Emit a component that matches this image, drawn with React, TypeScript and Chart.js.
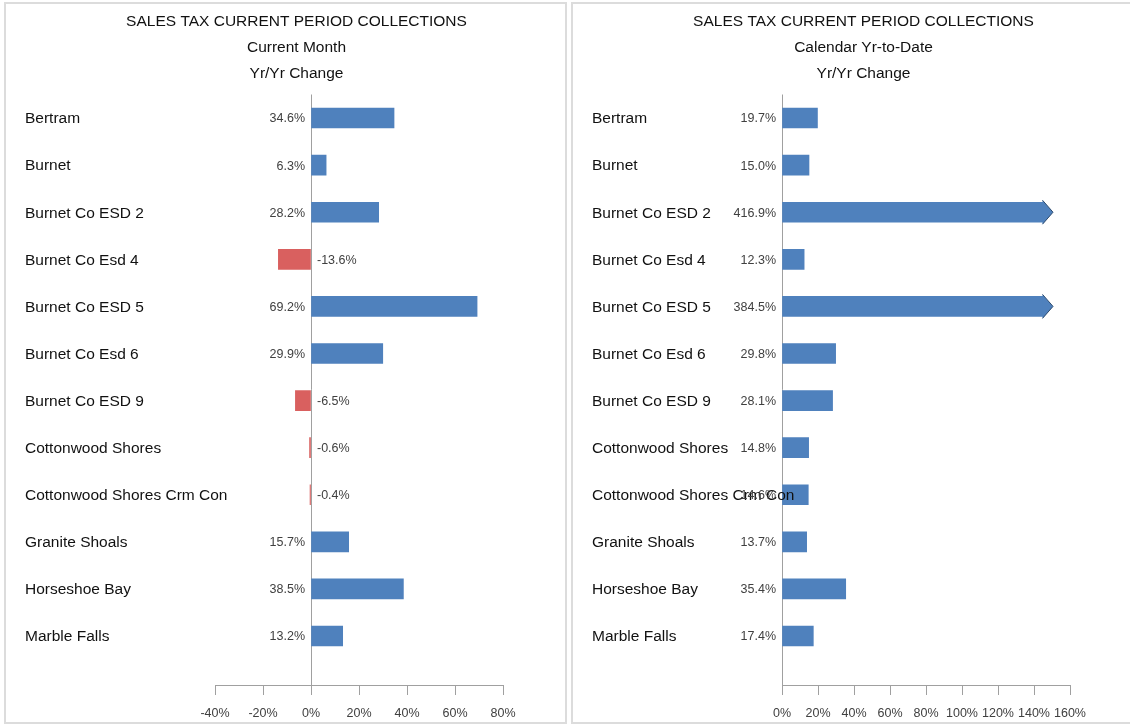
import React, { useEffect, useRef } from "react";
import { Chart, registerables } from "chart.js";
Chart.register(...registerables);

const categories = [
  "Bertram",
  "Burnet",
  "Burnet Co ESD 2",
  "Burnet Co Esd 4",
  "Burnet Co ESD 5",
  "Burnet Co Esd 6",
  "Burnet Co ESD 9",
  "Cottonwood Shores",
  "Cottonwood Shores Crm Con",
  "Granite Shoals",
  "Horseshoe Bay",
  "Marble Falls",
];
const monthChange = [34.6, 6.3, 28.2, -13.6, 69.2, 29.9, -6.5, -0.6, -0.4, 15.7, 38.5, 13.2];
const ytdChange = [19.7, 15.0, 416.9, 12.3, 384.5, 29.8, 28.1, 14.8, 14.6, 13.7, 35.4, 17.4];
const monthTitle = ["SALES TAX CURRENT PERIOD COLLECTIONS", "Current Month", "Yr/Yr Change"];
const ytdTitle = ["SALES TAX CURRENT PERIOD COLLECTIONS", "Calendar Yr-to-Date", "Yr/Yr Change"];
const monthAxis = { min: -40, max: 80, step: 20 };
const ytdAxis = { min: 0, max: 160, step: 20 };
const ytdCap = 145;

const FONT = "'Liberation Sans', Arial, Helvetica, sans-serif";
const BLUE = "#4f81bd";
const RED = "#d9605f";

type Props = {
  values: number[];
  titles: string[];
  axis: { min: number; max: number; step: number };
  cap?: number;
  left: number;
  width: number;
};

function BarPanel({ values, titles, axis, cap, left, width }: Props) {
  const ref = useRef<HTMLCanvasElement | null>(null);
  useEffect(() => {
    const canvas = ref.current;
    if (!canvas) return;
    const capVal = cap ?? Infinity;
    const shown = values.map((v, i) => ({ x: Math.min(v, capVal), y: i }));

    const titlePlugin = {
      id: "titleLines",
      afterDraw(chart: any) {
        const ctx = chart.ctx;
        ctx.save();
        ctx.font = `15.5px ${FONT}`;
        ctx.fillStyle = "#111";
        ctx.textAlign = "center";
        ctx.textBaseline = "middle";
        titles.forEach((t, i) => ctx.fillText(t, 290.5, 18 + i * 26));
        ctx.restore();
      },
    };

    const labelPlugin = {
      id: "valueLabels",
      afterDatasetsDraw(chart: any) {
        const ctx = chart.ctx;
        const meta = chart.getDatasetMeta(0);
        const xs = chart.scales.x;
        const ys = chart.scales.y;
        const x0 = xs.getPixelForValue(0);
        ctx.save();
        ctx.textBaseline = "middle";
        meta.data.forEach((bar: any, i: number) => {
          const v = values[i];
          if (v > capVal) {
            const h = bar.height;
            ctx.beginPath();
            ctx.moveTo(bar.x - 0.5, bar.y - h / 2 - 2);
            ctx.lineTo(bar.x + 10, bar.y);
            ctx.lineTo(bar.x - 0.5, bar.y + h / 2 + 2);
            ctx.closePath();
            ctx.fillStyle = BLUE;
            ctx.fill();
            ctx.strokeStyle = "#2b4a6e";
            ctx.lineWidth = 1;
            ctx.beginPath();
            ctx.moveTo(bar.x - 0.5, bar.y - h / 2 - 2);
            ctx.lineTo(bar.x + 10, bar.y);
            ctx.lineTo(bar.x - 0.5, bar.y + h / 2 + 2);
            ctx.stroke();
          }
        });
        // category labels
        ctx.font = `15.5px ${FONT}`;
        ctx.fillStyle = "#111";
        ctx.textAlign = "left";
        categories.forEach((c, i) => {
          ctx.fillText(c, ys.left, ys.getPixelForValue(i) + 1);
        });
        // value labels
        ctx.font = `12.5px ${FONT}`;
        ctx.fillStyle = "#404040";
        meta.data.forEach((bar: any, i: number) => {
          const v = values[i];
          const txt = v.toFixed(1) + "%";
          if (v >= 0) {
            ctx.textAlign = "right";
            ctx.fillText(txt, x0 - 6, bar.y + 1);
          } else {
            ctx.textAlign = "left";
            ctx.fillText(txt, x0 + 6, bar.y + 1);
          }
        });
        ctx.restore();
      },
    };

    const chart = new Chart(canvas, {
      type: "bar",
      data: {
        datasets: [
          {
            data: shown as any,
            backgroundColor: values.map((v) => (v < 0 ? RED : BLUE)),
            borderWidth: 0,
            barThickness: 20,
          },
        ],
      },
      options: {
        indexAxis: "y",
        animation: false,
        responsive: false,
        devicePixelRatio: 1,
        layout: { padding: { left: 19, right: width - 497, top: 90.5, bottom: 0 } },
        plugins: {
          legend: { display: false },
          title: { display: false },
          tooltip: { enabled: false },
        },
        scales: {
          x: {
            type: "linear",
            min: axis.min,
            max: axis.max,
            afterFit(scale: any) {
              scale.height = 37;
            },
            ticks: {
              stepSize: axis.step,
              padding: 11,
              autoSkip: false,
              maxRotation: 0,
              minRotation: 0,
              color: "#404040",
              font: { family: FONT, size: 12.5 },
              callback: (v: any) => v + "%",
            },
            grid: {
              drawOnChartArea: true,
              drawTicks: true,
              tickLength: 10,
              tickColor: "#a0a0a0",
              color: (c: any) => (c.tick && c.tick.value === 0 ? "#a0a0a0" : "rgba(0,0,0,0)"),
            },
            border: { display: true, color: "#a0a0a0" },
          },
          y: {
            type: "linear",
            reverse: true,
            offset: false,
            min: -0.5,
            max: 12.04,
            afterFit(scale: any) {
              scale.width = 190;
            },
            ticks: { display: false },
            grid: { display: false },
            border: { display: false },
          },
        },
      } as any,
      plugins: [titlePlugin, labelPlugin],
    });
    return () => chart.destroy();
  }, []);

  return (
    <canvas
      ref={ref}
      width={width}
      height={718}
      style={{ position: "absolute", left, top: 4, width, height: 718 }}
    />
  );
}

export default function App() {
  useEffect(() => {
    document.body.style.margin = "0";
    document.body.style.overflow = "hidden";
  }, []);
  return (
    <div style={{ position: "absolute", left: 0, top: 0, width: 1130, height: 726, background: "#fff", overflow: "hidden" }}>
      <div
        style={{
          position: "absolute",
          left: 4,
          top: 2,
          width: 563,
          height: 722,
          boxSizing: "border-box",
          border: "2px solid #dcdcdc",
        }}
      />
      <div
        style={{
          position: "absolute",
          left: 571,
          top: 2,
          width: 600,
          height: 722,
          boxSizing: "border-box",
          border: "2px solid #dcdcdc",
        }}
      />
      <BarPanel values={monthChange} titles={monthTitle} axis={monthAxis} left={6} width={559} />
      <BarPanel values={ytdChange} titles={ytdTitle} axis={ytdAxis} cap={ytdCap} left={573} width={557} />
    </div>
  );
}
